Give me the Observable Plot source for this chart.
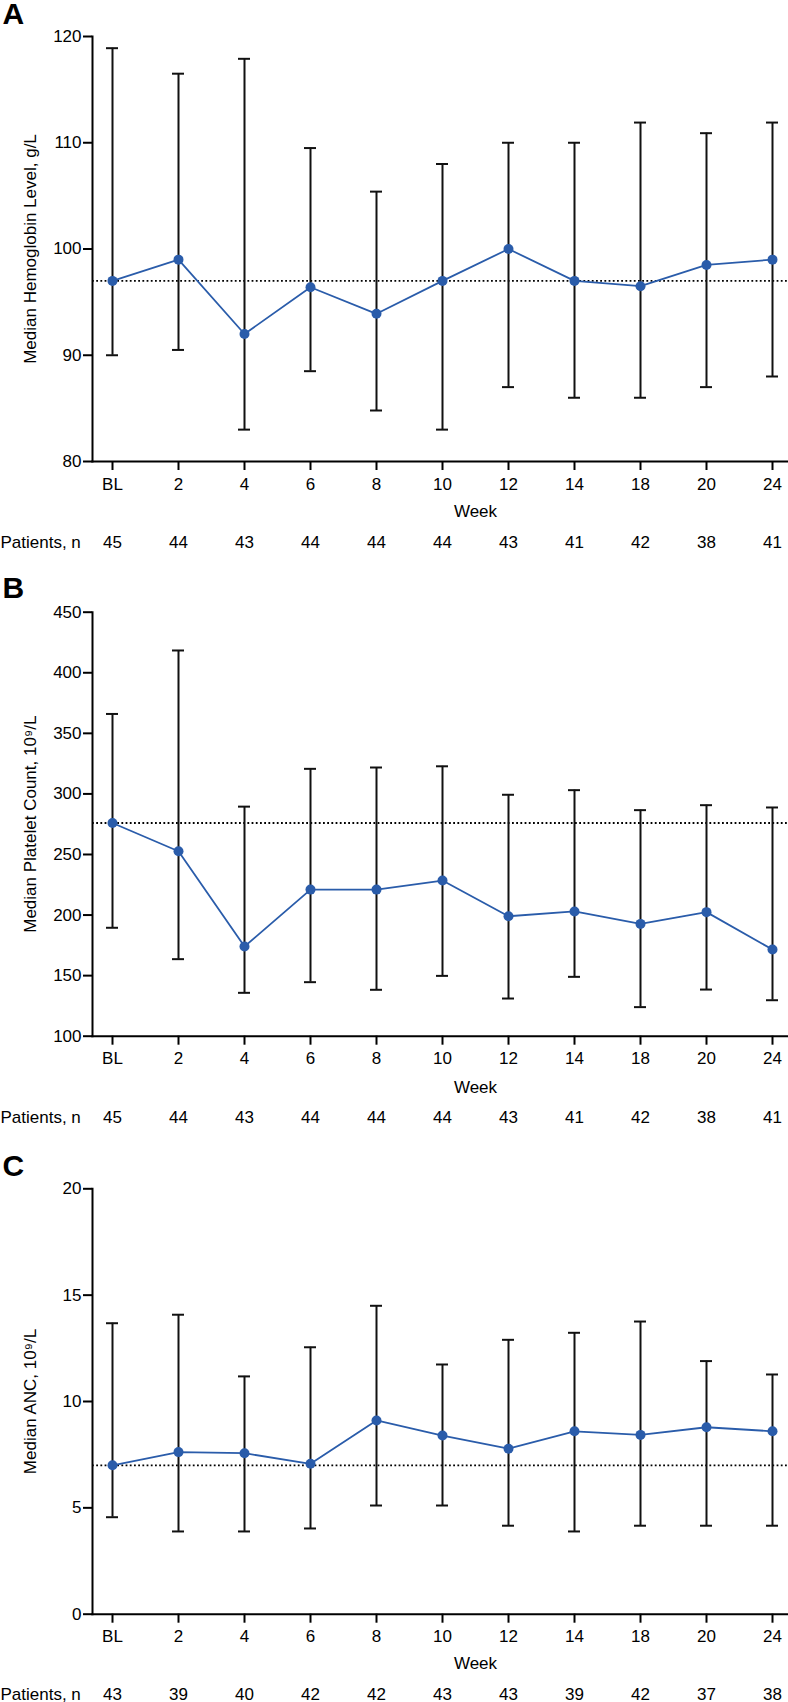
<!DOCTYPE html>
<html>
<head>
<meta charset="utf-8">
<script src="https://cdn.jsdelivr.net/npm/d3@7"></script>
<script src="https://cdn.jsdelivr.net/npm/@observablehq/plot@0.6"></script>
<style>
  body { margin: 0; background: #fff; font-family: "Liberation Sans", Arial, Helvetica, sans-serif; }
  #chart svg { display: block; }
</style>
</head>
<body>
<div id="chart"></div>
<script>
// ---- shared categories ----
const weeks = ["BL", "2", "4", "6", "8", "10", "12", "14", "18", "20", "24"];

// ---- Panel A: hemoglobin (g/L) ----
const hbMedian = [97.0, 99.0, 92.0, 96.4, 93.9, 97.0, 100.0, 97.0, 96.5, 98.5, 99.0];
const hbLow    = [90.0, 90.5, 83.0, 88.5, 84.8, 83.0, 87.0, 86.0, 86.0, 87.0, 88.0];
const hbHigh   = [118.9, 116.5, 117.9, 109.5, 105.4, 108.0, 110.0, 110.0, 111.9, 110.9, 111.9];
const hbPatients = [45, 44, 43, 44, 44, 44, 43, 41, 42, 38, 41];
const hbTicks = [80, 90, 100, 110, 120];

// ---- Panel B: platelet count (10^9/L) ----
const pltMedian = [276, 252.7, 174, 221, 221, 228.5, 199, 203, 192.7, 202.4, 171.5];
const pltLow    = [189.5, 163.6, 135.8, 144.6, 138.3, 149.8, 131.1, 149, 124, 138.5, 129.7];
const pltHigh   = [366, 418.4, 289.5, 320.7, 321.8, 322.8, 299.3, 303.1, 286.6, 290.7, 288.8];
const pltPatients = [45, 44, 43, 44, 44, 44, 43, 41, 42, 38, 41];
const pltTicks = [100, 150, 200, 250, 300, 350, 400, 450];

// ---- Panel C: ANC (10^9/L) ----
const ancMedian = [7.0, 7.62, 7.57, 7.07, 9.11, 8.4, 7.78, 8.6, 8.43, 8.79, 8.6];
const ancLow    = [4.56, 3.89, 3.89, 4.03, 5.11, 5.11, 4.16, 3.89, 4.16, 4.16, 4.16];
const ancHigh   = [13.68, 14.08, 11.18, 12.55, 14.5, 11.74, 12.9, 13.23, 13.76, 11.9, 11.27];
const ancPatients = [43, 39, 40, 42, 42, 43, 43, 39, 42, 37, 38];
const ancTicks = [0, 5, 10, 15, 20];

const BLUE = "#2a5caa";
const FONT = "\"Liberation Sans\", Arial, Helvetica, sans-serif";

function panel(o) {
  const rows = weeks.map((w, i) => ({week: w, med: o.median[i], lo: o.low[i], hi: o.high[i], n: o.patients[i]}));
  return Plot.plot({
    width: 788,
    height: o.height,
    marginTop: o.marginTop,
    marginBottom: o.marginBottom,
    marginLeft: 92,
    marginRight: 1,
    style: {fontFamily: FONT, fontSize: "17px", color: "#000", background: "#fff", overflow: "visible"},
    x: {type: "point", domain: weeks, padding: 0.24, align: 0.57},
    y: {domain: [o.ticks[0], o.ticks[o.ticks.length - 1]]},
    marks: [
      Plot.ruleY([o.median[0]], {stroke: "#000", strokeWidth: 1.8, strokeDasharray: "1.8 2.4"}),
      Plot.ruleX(rows, {x: "week", y1: "lo", y2: "hi", stroke: "#111", strokeWidth: 2}),
      Plot.ruleY(rows, {x1: "week", x2: "week", y: "hi", stroke: "#111", strokeWidth: 2, insetLeft: -6, insetRight: -6}),
      Plot.ruleY(rows, {x1: "week", x2: "week", y: "lo", stroke: "#111", strokeWidth: 2, insetLeft: -6, insetRight: -6}),
      Plot.line(rows, {x: "week", y: "med", stroke: BLUE, strokeWidth: 1.8}),
      Plot.dot(rows, {x: "week", y: "med", r: 5, fill: BLUE, stroke: "none"}),
      Plot.frame({anchor: "left", stroke: "#000", strokeWidth: 2}),
      Plot.frame({anchor: "bottom", stroke: "#000", strokeWidth: 2}),
      Plot.axisY({ticks: o.ticks, tickFormat: d => String(d), tickSize: 9, tickPadding: 2, strokeWidth: 2, label: null, fontSize: 17}),
      Plot.axisX({tickSize: 9, tickPadding: 7, strokeWidth: 2, label: null, fontSize: 17}),
      Plot.text([o.yLabel], {frameAnchor: "left", rotate: -90, dx: -62, textAnchor: "middle", fontSize: 17}),
      Plot.text([o.letter], {frameAnchor: "top-left", dx: -90, dy: o.letterDy, textAnchor: "start", lineAnchor: "middle", fontWeight: "bold", fontSize: 30}),
      Plot.text(["Week"], {frameAnchor: "bottom", dx: 35.5, dy: o.weekDy, lineAnchor: "middle", fontSize: 17}),
      Plot.text(["Patients, n"], {frameAnchor: "bottom-left", dx: -92, dy: o.nDy, textAnchor: "start", lineAnchor: "middle", fontSize: 17}),
      Plot.text(rows, {x: "week", text: d => String(d.n), frameAnchor: "bottom", dy: o.nDy, lineAnchor: "middle", fontSize: 17})
    ]
  });
}

const chart = document.getElementById("chart");
chart.append(panel({
  letter: "A", yLabel: "Median Hemoglobin Level, g/L",
  median: hbMedian, low: hbLow, high: hbHigh, patients: hbPatients, ticks: hbTicks,
  height: 560, marginTop: 36, marginBottom: 99, letterDy: -22.5, weekDy: 49.7, nDy: 80.7
}));
chart.append(panel({
  letter: "B", yLabel: "Median Platelet Count, 10\u2079/L",
  median: pltMedian, low: pltLow, high: pltHigh, patients: pltPatients, ticks: pltTicks,
  height: 570, marginTop: 51.7, marginBottom: 94.3, letterDy: -23.4, weekDy: 51, nDy: 81.6
}));
chart.append(panel({
  letter: "C", yLabel: "Median ANC, 10\u2079/L",
  median: ancMedian, low: ancLow, high: ancHigh, patients: ancPatients, ticks: ancTicks,
  height: 572, marginTop: 58.3, marginBottom: 88.3, letterDy: -22.8, weekDy: 49.6, nDy: 80.3
}));
</script>
</body>
</html>
